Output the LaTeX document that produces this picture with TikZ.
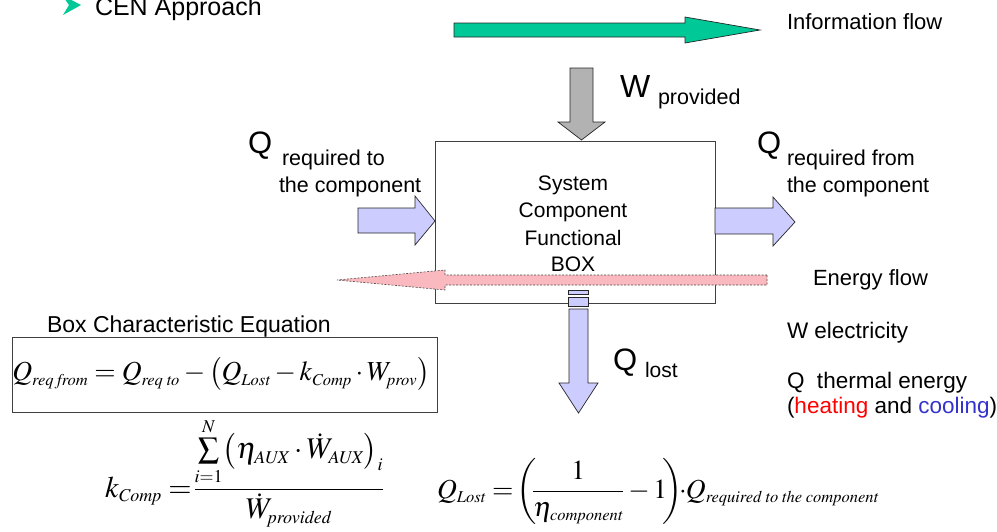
\documentclass[tikz,border=0pt]{standalone}
\usepackage{mathptmx}
\usepackage[no-math]{fontspec}
\setmainfont{Liberation Sans}
\renewcommand\defaultscriptratio{.6}
\renewcommand\defaultscriptscriptratio{.45}
\newcommand\fsz[1]{\fontsize{#1}{#1}\selectfont}
\definecolor{flowgreen}{RGB}{0,200,150}
\definecolor{wgray}{RGB}{178,178,178}
\definecolor{qblue}{RGB}{204,204,255}
\definecolor{epink}{RGB}{250,185,190}
\definecolor{heatred}{RGB}{255,0,0}
\definecolor{coolblue}{RGB}{51,51,204}
\begin{document}
\begin{tikzpicture}[x=1pt,y=-1pt,
  lbl/.style={anchor=base west, inner sep=0pt, outer sep=0pt},
  ctr/.style={anchor=base, inner sep=0pt, outer sep=0pt},
  outl/.style={draw=black!85, line width=0.7pt, line join=miter},
  boxline/.style={draw=black!75, line width=0.8pt}]
\useasboundingbox (0,0) rectangle (997,531);

% bullet and title
\fill[flowgreen] (62,-5) -- (81,5) -- (63,15) -- (69,5) -- cycle;
\node[lbl, font=\fsz{25}] (title) at (95,15) {CEN Approach};

% information flow arrow
\path[outl, fill=flowgreen] (454,23) -- (685,23) -- (685,17) -- (760,30) -- (685,43) -- (685,37) -- (454,37) -- cycle;
\node[lbl, font=\fsz{22}] (info) at (787,29) {Information flow};

% main box
\node[boxline, minimum width=280pt, minimum height=162pt, inner sep=0pt] (box) at (575,222) {};
\node[ctr, font=\fsz{21}] (t1) at (573,190) {System};
\node[ctr, font=\fsz{21}] (t2) at (573,217) {Component};
\node[ctr, font=\fsz{21}] (t3) at (573,245) {Functional};
\node[ctr, font=\fsz{21}] (t4) at (573,271) {BOX};

% W provided arrow
\path[outl, fill=wgray] (570,68) -- (593,68) -- (593,122) -- (605,122) -- (581.5,140) -- (558,122) -- (570,122) -- cycle;
\node[lbl, font=\fsz{32}] (wq) at (620,97) {W};
\node[lbl, font=\fsz{21.5}] (wprov) at (658,104) {provided};

% left input arrow
\path[outl, fill=qblue] (358,208) -- (415,208) -- (415,196) -- (435,221) -- (415,245) -- (415,233) -- (358,233) -- cycle;
\node[lbl, font=\fsz{31}] (qin) at (248,153) {Q};
\node[lbl, font=\fsz{21.5}] (qin1) at (282,165) {required to};
\node[lbl, font=\fsz{21.5}] (qin2) at (279,192) {the component};

% right output arrow
\path[outl, fill=qblue] (715,208) -- (773,208) -- (773,197) -- (795,222) -- (773,246) -- (773,234) -- (715,234) -- cycle;
\node[lbl, font=\fsz{31}] (qout) at (757,153) {Q};
\node[lbl, font=\fsz{21.5}] (qout1) at (787,165) {required from};
\node[lbl, font=\fsz{21.5}] (qout2) at (787,192) {the component};

% energy flow arrow
\path[draw=black!70, dash pattern=on 2pt off 1.5pt, line width=0.6pt, fill=epink]
  (767,275) -- (445,275) -- (445,270) -- (337,280) -- (445,290) -- (445,285) -- (767,285) -- cycle;
\node[lbl, font=\fsz{22}] (eflow) at (813,285) {Energy flow};

% Q lost arrow
\path[outl, fill=qblue] (568,290) rectangle (588,294);
\path[outl, fill=qblue] (568,297) rectangle (588,306);
\path[outl, fill=qblue] (569,309) -- (588,309) -- (588,383) -- (598,383) -- (578.5,413) -- (559,383) -- (569,383) -- cycle;
\node[lbl, font=\fsz{31}] (qlost) at (613,370) {Q};
\node[lbl, font=\fsz{21}] (qlost1) at (645,377) {lost};

% legend
\node[lbl, font=\fsz{22.5}] (wel) at (787,338) {W electricity};
\node[lbl, font=\fsz{22.5}] (qth) at (787,388) {Q\ \ thermal energy};
\node[lbl, font=\fsz{22.5}] (hc) at (787,413) {(\textcolor{heatred}{heating} and \textcolor{coolblue}{cooling})};

% box characteristic equation
\node[lbl, font=\fsz{23}] (bce) at (47,332) {Box Characteristic Equation};
\node[boxline, minimum width=425pt, minimum height=75pt, inner sep=0pt] (eqbox) at (224.5,374.5) {};
\node[inner sep=0pt, font=\fsz{27.5}] (eq1) at (221,374)
  {$Q_{\mathit{req\;from}} = Q_{\mathit{req\;to}} - \bigl(Q_{\mathit{Lost}} - k_{\mathit{Comp}}\cdot W_{\mathit{prov}}\bigr)$};

% k_Comp equation
\node[lbl, font=\fsz{30}] (eq2) at (105,497)
  {$\displaystyle k_{\mathit{Comp}} = \mkern-3mu\frac{\sum\limits_{i=1}^{N}\bigl(\eta_{\mathit{AUX}}\cdot \dot W_{\mathit{AUX}}\bigr)_i}{\dot W_{\mathit{provided}}}$};

% Q_Lost equation
\node[lbl, font=\fsz{27.5}] (eq3) at (437,498)
  {$\displaystyle Q_{\mathit{Lost}} = \mkern-2mu\left(\mkern-3mu\frac{1}{\eta_{\mathit{component}}} - 1\mkern-3mu\right)\mkern-5mu\cdot\mkern-3mu Q_{\mathit{required\;to\;the\;component}}$};
\end{tikzpicture}
\end{document}
